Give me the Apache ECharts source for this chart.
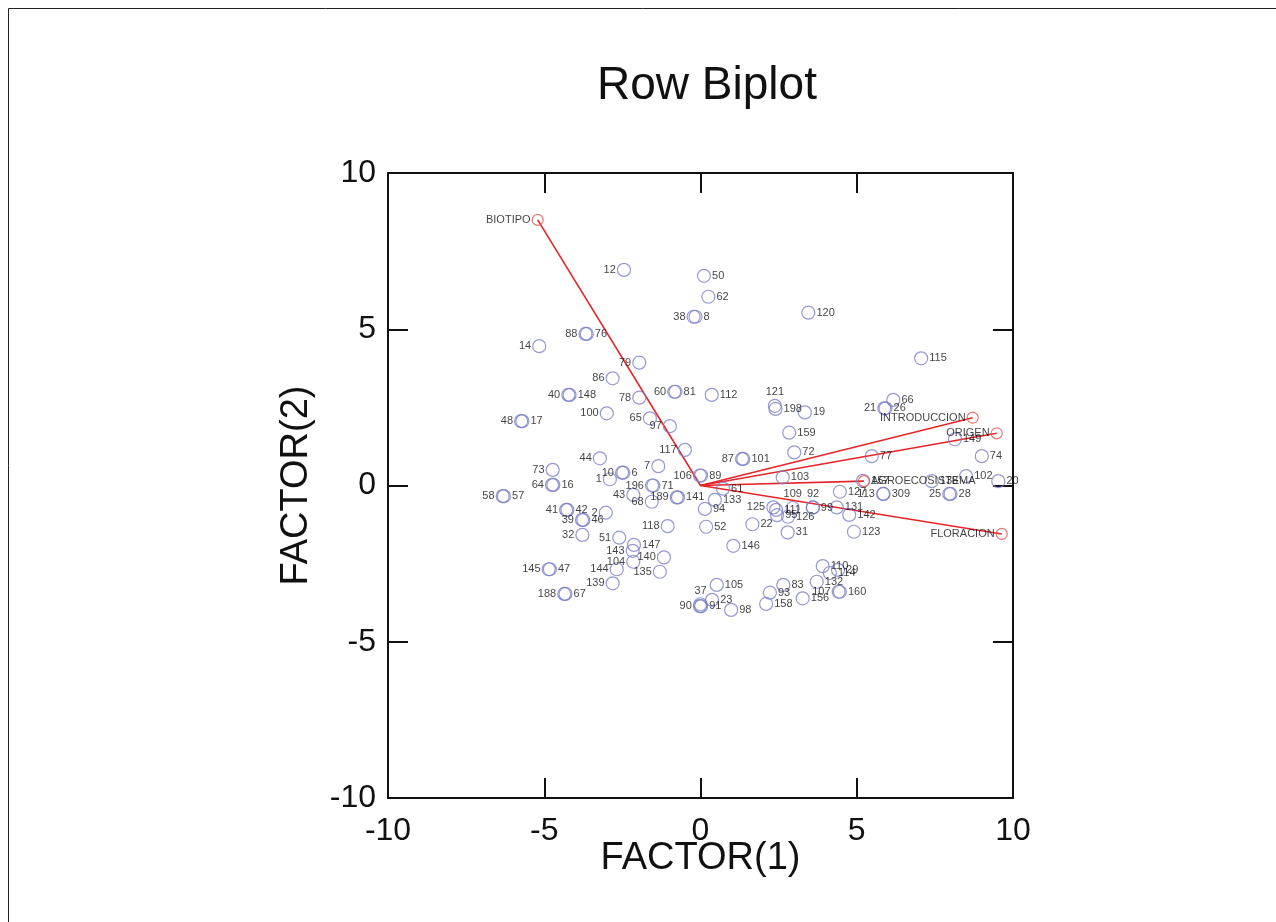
<!DOCTYPE html>
<html>
<head>
<meta charset="utf-8">
<script src="https://cdn.jsdelivr.net/npm/echarts@6/dist/echarts.min.js"></script>
<style>html,body{margin:0;padding:0;background:#fff;}#chart{width:1276px;height:922px;}</style>
</head>
<body>
<div id="chart"></div>
<script>
// Row (case) points
const pointIds = ['12','50','62','38','8','120','115','112','121','198','19','66','21','26','149','74','102','20','77','157','127','113','309','138','25','28','159','72','87','101','106','89','103','61','133','94','52','146','125','111','109','95','126','22','31','92','99','131','142','123','79','86','40','148','78','60','81','100','65','97','48','17','117','44','7','10','6','1','73','64','16','58','57','196','71','43','68','189','141','41','42','39','46','2','32','51','118','143','147','140','104','135','144','139','145','47','188','67','105','90','91','37','23','98','93','83','158','156','107','160','110','29','114','132','88','76','14'];
const pointX = [-2.45,0.11,0.25,-0.22,-0.16,3.45,7.06,0.36,2.38,2.40,3.34,6.17,5.88,5.92,8.14,9.00,8.50,9.53,5.48,5.20,4.46,5.84,5.86,7.40,7.96,8.00,2.84,3.00,1.33,1.37,-0.02,0.02,2.63,0.72,0.46,0.14,0.18,1.05,2.33,2.42,2.95,2.45,2.80,1.66,2.79,3.60,3.59,4.36,4.76,4.91,-1.96,-2.81,-4.23,-4.19,-1.96,-0.84,-0.80,-3.00,-1.62,-0.98,-5.74,-5.70,-0.50,-3.22,-1.35,-2.51,-2.47,-2.90,-4.73,-4.75,-4.71,-6.33,-6.29,-1.55,-1.51,-2.15,-1.56,-0.76,-0.72,-4.30,-4.26,-3.79,-3.75,-3.03,-3.78,-2.60,-1.05,-2.17,-2.13,-1.17,-2.15,-1.30,-2.68,-2.81,-4.86,-4.82,-4.36,-4.32,0.52,-0.02,0.02,0.00,0.37,0.98,2.22,2.65,2.10,3.27,4.42,4.46,3.91,4.40,4.14,3.72,-3.68,-3.64,-5.16];
const pointY = [6.90,6.71,6.04,5.40,5.40,5.53,4.07,2.90,2.55,2.45,2.34,2.74,2.47,2.47,1.48,0.94,0.30,0.14,0.94,0.15,-0.20,-0.27,-0.27,0.14,-0.27,-0.27,1.69,1.06,0.85,0.85,0.32,0.32,0.26,-0.10,-0.46,-0.75,-1.32,-1.93,-0.70,-0.78,-0.72,-0.95,-1.00,-1.24,-1.50,-0.70,-0.71,-0.70,-0.94,-1.48,3.93,3.43,2.90,2.90,2.81,3.00,3.00,2.31,2.15,1.90,2.06,2.06,1.14,0.87,0.62,0.41,0.41,0.20,0.50,0.02,0.02,-0.34,-0.34,0.00,0.00,-0.30,-0.52,-0.38,-0.38,-0.78,-0.78,-1.10,-1.10,-0.87,-1.58,-1.67,-1.30,-2.09,-1.90,-2.30,-2.44,-2.76,-2.68,-3.13,-2.68,-2.68,-3.47,-3.47,-3.18,-3.86,-3.86,-3.80,-3.66,-3.98,-3.43,-3.18,-3.79,-3.61,-3.40,-3.40,-2.58,-2.70,-2.80,-3.08,4.85,4.85,4.46];
// ids whose label sits left / above the marker
const leftLabelIds = ['12','38','21','113','25','87','106','125','79','86','40','78','60','100','65','97','48','117','44','7','10','1','73','64','58','196','43','68','189','41','39','2','32','51','118','143','140','104','135','144','139','145','188','90','107','88','14'];
const topLabelIds = ['121','109','92','37'];

// Variable vectors
const vectorNames = ['BIOTIPO','INTRODUCCION','ORIGEN','FLORACION','AGROECOSISTEMA'];
const vectorX = [-5.21, 8.71, 9.48, 9.64, 5.23];
const vectorY = [8.50, 2.17, 1.67, -1.55, 0.14];
const vectorLabelLeft = ['BIOTIPO','INTRODUCCION','ORIGEN','FLORACION'];

const xTicks = [-10, -5, 0, 5, 10];
const yTicks = [-10, -5, 0, 5, 10];

const FONT = 'Liberation Sans, Arial, sans-serif';

const pointData = pointIds.map((id, i) => {
  let pos = 'right';
  if (leftLabelIds.includes(id)) pos = 'left';
  if (topLabelIds.includes(id)) pos = 'top';
  return { name: id, value: [pointX[i], pointY[i]], label: { position: pos } };
});

const vectorLines = vectorNames.map((n, i) => ({
  type: 'line',
  data: [[0, 0], [vectorX[i], vectorY[i]]],
  showSymbol: false,
  symbol: 'none',
  lineStyle: { color: '#e5252a', width: 1.6 },
  z: 3,
  silent: true
}));

const vectorEnds = vectorNames.map((n, i) => ({
  name: n,
  value: [vectorX[i], vectorY[i]],
  label: { position: vectorLabelLeft.includes(n) ? 'left' : 'right' }
}));

const baseAxis = {
  type: 'value', min: xTicks[0], max: xTicks[xTicks.length - 1], interval: 5,
  splitLine: { show: false },
  axisLine: { show: true, onZero: false, lineStyle: { color: '#111', width: 2 } },
  axisTick: { show: true, inside: true, length: 20, lineStyle: { color: '#111', width: 2 } }
};

const chart = echarts.init(document.getElementById('chart'), null, { renderer: 'canvas' });
chart.setOption({
  animation: false,
  backgroundColor: '#fff',
  title: {
    text: 'Row Biplot', left: 702, top: 58, textAlign: 'center',
    textStyle: { fontFamily: FONT, fontSize: 46, fontWeight: 'normal', color: '#111' }
  },
  graphic: [{
    type: 'rect', shape: { x: 8.5, y: 8.5, width: 1400, height: 1000 },
    style: { fill: 'none', stroke: '#222', lineWidth: 1 }, silent: true
  }],
  grid: { left: 388, top: 173, width: 625, height: 625 },
  xAxis: [
    Object.assign({}, baseAxis, {
      position: 'bottom',
      axisLabel: { fontSize: 32, color: '#111', fontFamily: FONT, margin: 17 },
      name: 'FACTOR(1)', nameLocation: 'middle', nameGap: 42, nameMoveOverlap: false,
      nameTextStyle: { fontSize: 38, color: '#111', fontFamily: FONT }
    }),
    Object.assign({}, baseAxis, { position: 'top', axisLabel: { show: false } })
  ],
  yAxis: [
    Object.assign({}, baseAxis, {
      min: yTicks[0], max: yTicks[yTicks.length - 1],
      position: 'left',
      axisLabel: { fontSize: 32, color: '#111', fontFamily: FONT, margin: 12 },
      name: 'FACTOR(2)', nameLocation: 'middle', nameGap: 72, nameRotate: 90,
      nameTextStyle: { fontSize: 38, color: '#111', fontFamily: FONT }
    }),
    Object.assign({}, baseAxis, {
      min: yTicks[0], max: yTicks[yTicks.length - 1],
      position: 'right', axisLabel: { show: false }
    })
  ],
  series: [
    {
      type: 'scatter',
      data: pointData,
      symbol: 'circle', symbolSize: 13,
      itemStyle: { color: 'rgba(255,255,255,0)', borderColor: '#7c80c8', borderWidth: 1.2 },
      label: {
        show: true, formatter: '{b}', distance: 1,
        fontSize: 11, color: '#111', fontFamily: FONT
      },
      labelLayout: { hideOverlap: false },
      z: 4
    },
    ...vectorLines,
    {
      type: 'scatter',
      data: vectorEnds,
      symbol: 'circle', symbolSize: 11,
      itemStyle: { color: 'rgba(255,255,255,0)', borderColor: '#e5554f', borderWidth: 1.2 },
      label: {
        show: true, formatter: '{b}', distance: 1,
        fontSize: 11, color: '#111', fontFamily: FONT
      },
      z: 5
    }
  ]
});
</script>
</body>
</html>
